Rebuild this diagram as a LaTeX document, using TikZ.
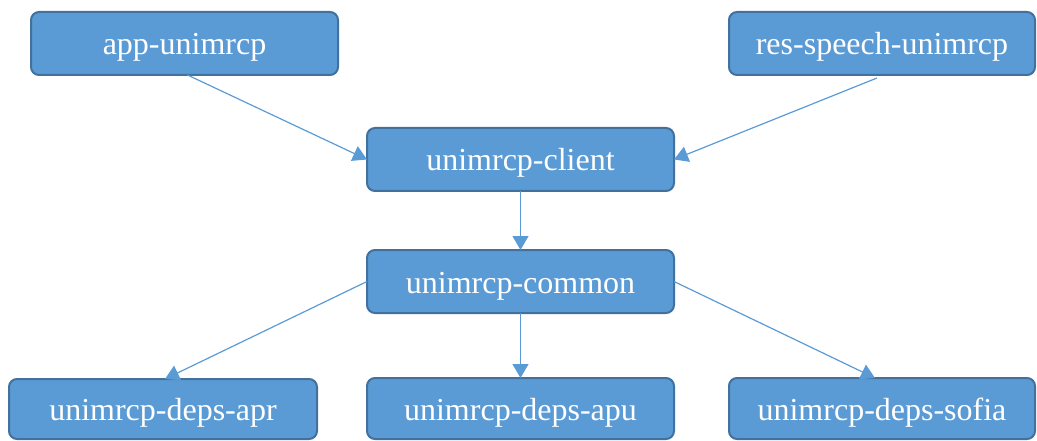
\documentclass[tikz,border=0pt]{standalone}
\usepackage{fontspec}
\setmainfont{Liberation Serif}
\usetikzlibrary{arrows.meta}
\definecolor{boxfill}{HTML}{5B9BD5}
\definecolor{boxline}{HTML}{41719C}
\begin{document}
\begin{tikzpicture}[x=1pt,y=-1pt,
  box/.style={draw=boxline, fill=boxfill, line width=2pt, rounded corners=8pt,
    text=white, font=\fontsize{32}{38}\selectfont, inner sep=0pt, outer sep=0pt,
    text height=27pt, text depth=4pt},
  conn/.style={draw=boxfill, line width=1.2pt, -{Triangle[length=14pt,width=16pt]}}]
\useasboundingbox (0,0) rectangle (1037,441);
\node[box, minimum width=307pt, minimum height=63pt] (app) at (184.5,43.5) {app-unimrcp};
\node[box, minimum width=306pt, minimum height=63pt] (res) at (882,43.5) {res-speech-unimrcp};
\node[box, minimum width=307pt, minimum height=63pt] (client) at (520.5,159.5) {unimrcp-client};
\node[box, minimum width=307pt, minimum height=63pt] (common) at (520.5,281.5) {unimrcp-common};
\node[box, minimum width=308pt, minimum height=60pt] (apr) at (163,409) {unimrcp-deps-apr};
\node[box, minimum width=307pt, minimum height=61pt] (apu) at (520.5,408.5) {unimrcp-deps-apu};
\node[box, minimum width=306pt, minimum height=61pt] (sofia) at (882,408.5) {unimrcp-deps-sofia};
\draw[conn] ([xshift=3pt]app.south) -- (client.west);
\draw[conn] ([xshift=-5pt,yshift=-3pt]res.south) -- (client.east);
\draw[conn] (client.south) -- (common.north);
\draw[conn] (common.west) -- ([xshift=2pt]apr.north);
\draw[conn] (common.south) -- (apu.north);
\draw[conn] (common.east) -- ([xshift=-7pt]sofia.north);
\end{tikzpicture}
\end{document}
